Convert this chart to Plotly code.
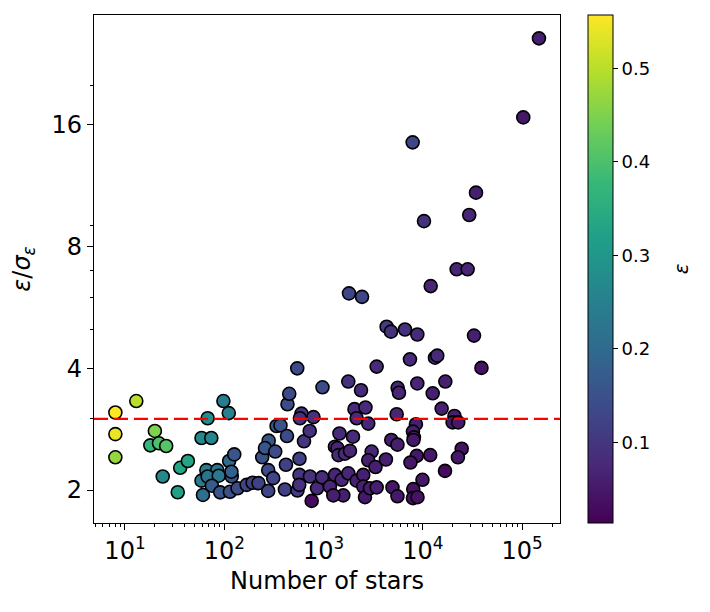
import numpy as np
import plotly.graph_objects as go

# Data
n_stars = [8, 8, 8, 13, 20, 18, 22, 26, 24, 34, 36, 43,
           98, 111, 68, 59, 74, 66, 85, 59, 68, 88, 61, 75, 91,
           112, 126, 119, 118, 114, 136, 168, 193, 221,
           241, 280, 257, 326, 277, 311, 277, 336, 368, 428, 418, 408, 546,
           433, 451, 543, 599, 578, 791, 635, 725, 572, 572, 569, 729, 759, 859, 964, 975,
           1159, 1302, 1445, 1302, 1380, 1413, 1644, 1844, 1977, 1521, 1579, 1253, 1774, 2153,
           2511, 2511, 2612, 2931, 3425,
           1774, 2383, 2048, 2642, 2153, 2818,
           1803, 2439, 4315, 4771, 6607, 8790, 32730, 3425, 7413, 13240, 13960, 38900,
           5572, 5741, 8790, 12560, 16830, 5445, 15450, 20800, 19950, 22700,
           8511, 7943, 8128, 8035, 4808, 5546, 24600, 22540,
           3048, 2818, 3334, 4246, 8670, 7499, 11860, 16710, 9908, 4943, 5546, 8000, 7943, 8830,
           7889, 34280, 29310, 10260, 21880, 28240, 11990, 102600, 147600]

snr = [3.11, 2.75, 2.41, 3.32, 2.80, 2.58, 2.61, 2.57, 2.16, 1.975, 2.27, 2.36,
       3.32, 3.10, 3.01, 2.69, 2.69, 2.24, 2.24, 2.11, 2.16, 2.17, 1.945, 2.05, 1.974,
       2.36, 2.45, 2.16, 2.22, 1.98, 2.02, 2.06, 2.085, 2.08,
       2.41, 2.65, 2.54, 2.49, 2.24, 2.14, 1.99, 2.88, 2.89, 2.72, 2.31, 2.006, 1.995,
       3.26, 3.46, 4.0, 3.09, 3.01, 3.03, 2.64, 2.80, 2.39, 2.18, 2.06, 2.16, 1.88, 2.02, 2.15, 3.59,
       2.04, 2.18, 2.76, 2.56, 2.54, 2.44, 2.46, 2.50, 2.71, 2.12, 1.94, 1.94, 2.20, 2.11,
       2.18, 2.04, 1.92, 2.02, 2.03,
       3.71, 3.53, 3.17, 3.20, 3.01, 2.92,
       6.13, 6.01, 5.07, 4.93, 4.99, 4.85, 4.82, 4.04, 4.21, 4.25, 4.30, 4.01,
       3.58, 3.48, 3.67, 3.47, 3.71, 3.08, 3.18, 3.05, 2.94, 2.94,
       2.91, 2.79, 2.70, 2.66, 2.66, 2.59, 2.53, 2.41,
       2.49, 2.37, 2.28, 2.38, 2.43, 2.34, 2.44, 2.23, 2.12, 2.03, 1.93, 2.01, 1.91, 1.92,
       14.49, 10.88, 9.58, 9.25, 7.03, 7.03, 6.39, 16.7, 26.2]

eps = [0.555, 0.54, 0.47, 0.50, 0.45, 0.37, 0.40, 0.41, 0.27, 0.32, 0.33, 0.33,
       0.24, 0.25, 0.28, 0.27, 0.26, 0.24, 0.22, 0.24, 0.22, 0.23, 0.21, 0.17, 0.16,
       0.20, 0.16, 0.15, 0.18, 0.15, 0.14, 0.13, 0.12, 0.12,
       0.15, 0.16, 0.16, 0.14, 0.14, 0.13, 0.13, 0.16, 0.15, 0.14, 0.12, 0.12, 0.11,
       0.14, 0.14, 0.14, 0.10, 0.09, 0.09, 0.10, 0.09, 0.12, 0.10, 0.09, 0.09, 0.03, 0.08, 0.08, 0.14,
       0.07, 0.07, 0.08, 0.08, 0.07, 0.08, 0.08, 0.07, 0.08, 0.07, 0.06, 0.06, 0.07, 0.06,
       0.06, 0.06, 0.05, 0.06, 0.06,
       0.09, 0.08, 0.08, 0.08, 0.08, 0.07,
       0.13, 0.13, 0.11, 0.09, 0.09, 0.08, 0.06, 0.08, 0.08, 0.08, 0.08, 0.04,
       0.07, 0.07, 0.07, 0.06, 0.06, 0.07, 0.06, 0.06, 0.05, 0.05,
       0.06, 0.06, 0.06, 0.05, 0.06, 0.06, 0.04, 0.05,
       0.07, 0.06, 0.06, 0.06, 0.05, 0.05, 0.05, 0.03, 0.05, 0.05, 0.05, 0.04, 0.04, 0.04,
       0.13, 0.06, 0.07, 0.09, 0.07, 0.07, 0.07, 0.05, 0.06]

threshold = 3.0

x_tickvals = [10, 100, 1000, 10000, 100000]
x_ticktext = ["10<sup>1</sup>", "10<sup>2</sup>", "10<sup>3</sup>", "10<sup>4</sup>", "10<sup>5</sup>"]
y_tickvals = [2, 4, 8, 16]
y_minor = [3, 5, 6, 7, 9, 20]
cb_tickvals = [0.1, 0.2, 0.3, 0.4, 0.5]

font_family = "DejaVu Sans"

fig = go.Figure()

fig.add_trace(go.Scatter(
    x=n_stars, y=snr, mode='markers',
    marker=dict(size=13, color=eps, colorscale='Viridis', cmin=0.014, cmax=0.557,
                line=dict(color='black', width=1.6), opacity=1,
                colorbar=dict(thickness=25, len=1, lenmode='fraction', y=0.5, yanchor='middle',
                              x=1.06, xanchor='left', xpad=0, ypad=0,
                              outlinecolor='black', outlinewidth=1,
                              ticks='outside', ticklen=5, tickcolor='black',
                              tickprefix='\u00a0',
                              tickvals=cb_tickvals, tickfont=dict(size=18, color='black'))),
    showlegend=False, hoverinfo='skip'))

# threshold line
fig.add_shape(type='line', xref='x domain', x0=0, x1=1, yref='y', y0=threshold, y1=threshold,
              line=dict(color='red', width=2.2, dash='14px,6px'))

fig.update_xaxes(type='log', range=[0.688, 5.381], tickvals=x_tickvals, ticktext=x_ticktext,
                 ticks='outside', ticklen=6, tickwidth=1.2, tickcolor='black',
                 minor=dict(dtick='D1', ticks='outside', ticklen=3, tickcolor='black'),
                 showline=True, linecolor='black', linewidth=1.2, mirror=True,
                 showgrid=False, zeroline=False,
                 tickfont=dict(size=24, color='black'),
                 title=dict(text='Number of stars', font=dict(size=24, color='black'), standoff=8))

fig.update_yaxes(type='log', range=[0.2195, 1.476], tickvals=y_tickvals,
                 ticks='outside', ticklen=6, tickwidth=1.2, tickcolor='black',
                 minor=dict(tickvals=y_minor, ticks='outside', ticklen=3, tickcolor='black'),
                 showline=True, linecolor='black', linewidth=1.2, mirror=True,
                 showgrid=False, zeroline=False,
                 tickfont=dict(size=24, color='black'),
                 title=dict(text='<i>ε</i>/<i>σ</i><sub><i>ε</i></sub>', font=dict(size=24, color='black'), standoff=14))

# colorbar label
fig.add_annotation(text='<i>ε</i>', xref='paper', yref='paper', x=1.29, y=0.5,
                   textangle=-90, showarrow=False, font=dict(size=20, color='black'))

# page body adds 8px, so the figure is drawn 8px smaller
fig.update_layout(width=702, height=604, margin=dict(l=86, r=150, t=7, b=89),
                  paper_bgcolor='white', plot_bgcolor='white',
                  font=dict(family=font_family, color='black'))

fig.write_html("out.html")
